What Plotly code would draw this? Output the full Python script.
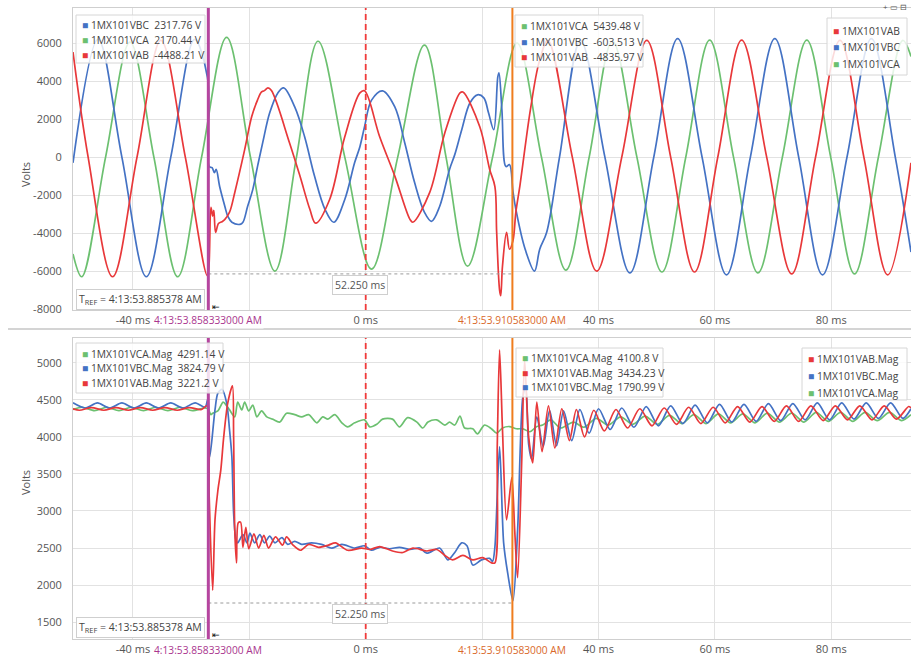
import plotly.graph_objects as go

# ---------------- DATA (time in ms relative to T_REF, values in volts) ----------------
# Top panel: instantaneous line voltages
t_vab = [-50.3, -47.7, -43.5, -39.3, -35.2, -31.0, -27.2,
         -26.6, -26.3, -26.1, -25.8, -25.3, -24.7, -24.2, -23.4, -22.5, -20.8, -19.6, -18.6, -17.9,
         -17.4, -16.8, -16.2, -13.1, -11.3, -9.6, -8.6, -6.2, -3.6, -1.0, -0.2, 2.4, 5.0, 7.6, 8.1,
         11.0, 13.6, 16.2, 16.7, 19.6, 21.3, 22.2, 22.5, 23.0, 23.2, 23.5, 24.2, 24.7, 25.3, 25.8,
         26.5, 28.3, 29.8, 31.3, 35.5, 39.7, 44.0, 48.3, 52.4, 56.5, 60.5, 64.6, 68.9, 73.2, 77.3,
         81.5, 85.6, 89.7, 93.7]
v_vab = [5530, 0, -6300, 0, 6150, 0, -6250,
         -2650, -3100, -2800, -3960, -3500, -3400, -3280, -2900, -1860, 390, 2120, 3000, 3430,
         3500, 3640, 3500, 760, -1000, -2750, -3480, -2230, 1070, 3380, 3490, 1070, -1000, -3280, -3430,
         -1860, 1280, 3380, 3430, 1600, -650, -1550, -3960, -7000, -7300, -5740, -3960, -4850, -4400, -2900,
         -1500, 2500, 5000, 6150, 0, -6000, 0, 6150, 0, -6050, 0, 6160, 0, -6150, 0,
         6150, 0, -6200, -300]

t_vbc = [-50.3, -46.0, -41.9, -37.7, -33.5, -29.4, -27.2,
         -26.9, -26.4, -26.0, -25.7, -25.1, -24.2, -23.7, -23.0, -21.6, -21.1, -20.3, -19.4, -18.6,
         -17.7, -16.5, -15.1, -14.1, -12.2, -10.5, -8.8, -7.0, -5.5, -3.6, -1.9, -1.0, -0.2, 1.0,
         2.9, 5.0, 6.7, 8.4, 10.1, 11.3, 12.7, 14.4, 15.3, 16.5, 17.9, 19.2, 20.3, 21.1, 22.0,
         22.7, 22.9, 23.4, 24.1, 24.7, 25.3, 25.8, 27.4, 29.0, 29.9, 31.1, 33.3, 36.9, 41.1, 45.4,
         49.5, 53.6, 57.8, 62.0, 66.1, 70.3, 74.4, 78.5, 82.7, 86.9, 91.0, 93.7]
v_vbc = [-300, 6200, 0, -6300, 0, 6200, 4200,
         -500, -560, -820, -650, -1550, -2600, -3120, -3430, -3540, -3430, -2600, -1700, -500,
         760, 2330, 3380, 3640, 2640, 1070, -1000, -2750, -3430, -2230, -290, 550, 1600, 3000,
         3490, 2640, 760, -1340, -2910, -3380, -2600, -650, 130, 1440, 2850, 3280, 3120, 2330, 1440,
         4220, 4430, 2490, -500, -390, -1800, -2750, -4850, -6000, -4850, -3960, 0, 6150, 0, -6100,
         0, 6240, 0, -6200, 0, 6240, 0, -6200, 0, 6240, 0, -5000]

t_vca = [-50.3, -48.8, -44.7, -40.5, -36.4, -32.3, -28.2, -23.9, -19.8, -15.6, -11.9, -8.2,
         -3.6, 1.0, 5.5, 10.1, 13.8, 17.5, 21.8, 26.0, 30.2, 34.4, 38.4, 42.4, 46.6, 50.9,
         55.0, 59.1, 63.2, 67.4, 71.6, 75.8, 79.9, 84.0, 88.1, 92.3, 93.7]
v_vca = [-5100, -6300, 0, 6050, 0, -6300, 0, 6300, 0, -6000, 0, 6100,
         0, -5900, 0, 5900, 0, -5740, 0, 6000, 0, -5950, 0, 6100, 0, -6050,
         0, 6160, 0, -6100, 0, 6160, 0, -6150, 0, 6150, 5300]

# Bottom panel: magnitudes
t_vbc_mag = [-50.3, -48.2, -46.1, -44.0, -41.9, -39.8, -37.7, -35.6, -33.5, -31.4, -29.3, -27.6,
             -27.1, -26.8, -25.9, -25.4, -24.7, -23.9, -23.4, -23.0, -22.7, -22.3, -22.0,
             -21.1, -20.4, -19.9, -19.1, -18.2, -17.4, -16.5, -15.6, -14.4, -13.4, -12.2, -11.0,
             -9.3, -7.6, -5.8, -4.1, -1.9, -0.2, 1.0, 2.4,
             4.1, 5.8, 7.6, 9.3, 10.5, 12.7, 14.1, 15.3, 16.5, 17.4, 18.4, 19.9, 21.3,
             21.8, 22.2, 23.0, 23.7, 24.4, 25.3, 26.1, 27.0, 27.5, 28.0, 28.5,
             29.4, 30.5, 31.6, 32.8, 34.0, 35.4, 36.8, 38.4, 40.0, 42.0, 44.0, 46.1, 48.2, 50.3,
             52.4, 54.5, 56.6, 58.7, 60.8, 62.9, 65.0, 67.1, 69.2, 71.3, 73.4, 75.5, 77.6, 79.7,
             81.8, 83.9, 86.0, 88.1, 90.2, 92.3, 93.7]
v_vbc_mag = [4460, 4390, 4460, 4390, 4460, 4390, 4460, 4390, 4460, 4390, 4460, 4400,
             4520, 3730, 4365, 4590, 4640, 4460, 4095, 3730, 2970, 2610, 2570,
             2680, 2570, 2700, 2570, 2680, 2570, 2660, 2570, 2640, 2550, 2590, 2550,
             2570, 2550, 2500, 2550, 2500, 2530, 2470, 2510,
             2490, 2510, 2480, 2500, 2430, 2500, 2340, 2440, 2570, 2530, 2270, 2340, 2360,
             2320, 2515, 3870, 2570, 2160, 1790, 2740, 4540, 4680, 3900, 3700,
             4270, 3870, 4360, 3880, 4350, 3950, 4370, 4050, 4380, 4100, 4390, 4130, 4410, 4150,
             4420, 4180, 4430, 4190, 4440, 4200, 4440, 4210, 4450, 4220, 4450, 4230, 4460, 4230,
             4460, 4240, 4460, 4250, 4460, 4250, 4380]

t_vab_mag = [-50.3, -49.2, -47.1, -45.0, -42.9, -40.8, -38.7, -36.6, -34.5, -32.4, -30.3, -28.2,
             -27.3, -26.9, -26.3, -25.9, -25.4, -24.9, -24.4, -23.7, -22.9, -22.7, -22.5, -22.2,
             -21.9, -21.5, -21.1,
             -20.6, -20.1, -19.2, -18.4, -17.5, -16.7, -15.5, -14.3, -13.6, -12.5, -11.2, -9.8,
             -8.1, -6.4, -5.2, -3.1, -0.7, 0.7, 2.4, 4.6, 6.4, 8.1, 10.5, 12.2, 13.6, 14.9, 16.7,
             18.4, 20.1, 21.6,
             22.2, 22.6, 23.0, 23.5, 24.2, 25.1, 25.6, 26.1, 26.8, 27.3, 28.0, 28.7, 29.4, 30.3,
             31.4, 32.5, 33.7, 35.0, 36.2, 37.6, 39.2, 41.0, 43.0, 45.0, 47.1, 49.2, 51.3, 53.4,
             55.5, 57.6, 59.7, 61.8, 63.9, 66.0, 68.1, 70.2, 72.3, 74.4, 76.5, 78.6, 80.7, 82.8,
             84.9, 87.0, 89.1, 91.2, 93.3, 93.7]
v_vab_mag = [4380, 4360, 4395, 4360, 4395, 4360, 4395, 4360, 4395, 4360, 4395, 4370,
             4420, 3200, 1930, 2880, 3280, 3555, 4000, 4460, 4690, 4000, 2740, 2300,
             2840, 2850, 2510,
             2780, 2490, 2690, 2500, 2670, 2500, 2650, 2540, 2650, 2540, 2470, 2550,
             2510, 2540, 2570, 2470, 2500, 2480, 2520, 2460, 2440, 2500, 2460, 2480, 2400, 2340, 2400,
             2340, 2370, 2300,
             2300, 3870, 5175, 4100, 2880, 3450, 2740, 2100, 3650, 5040, 4000, 3650, 4470, 3800,
             4420, 3850, 4380, 3950, 4370, 4000, 4360, 4080, 4370, 4120, 4380, 4150, 4390, 4170,
             4400, 4180, 4400, 4190, 4410, 4200, 4410, 4210, 4420, 4210, 4420, 4220, 4420, 4230,
             4420, 4230, 4420, 4240, 4410, 4390]

t_vca_mag = [-50.3, -48.7, -46.6, -44.5, -42.4, -40.3, -38.2, -36.1, -34.0, -31.9, -29.8, -27.7,
             -27.1, -26.6, -26.3, -25.4, -24.5, -23.9, -23.4, -22.5, -22.0, -21.3, -20.8, -20.1,
             -19.4, -18.7, -17.9, -17.0, -16.0, -14.8, -13.6, -12.2, -11.0, -9.8, -8.4, -7.4,
             -6.5, -5.3, -4.1, -3.1, -1.9, -0.2,
             0.7, 1.9, 2.9, 4.6, 5.8, 7.2, 8.8, 9.8, 10.7, 12.2, 13.6, 14.4, 15.3, 16.2, 17.0,
             18.4, 19.2, 20.4, 21.6, 22.5, 23.5, 24.7, 25.9, 27.0, 28.2, 29.4, 30.4, 31.8, 33.5,
             35.7, 37.5,
             39.6, 41.7, 43.8, 45.9, 48.0, 50.1, 52.2, 54.3, 56.4, 58.5, 60.6, 62.7, 64.8, 66.9,
             69.0, 71.1, 73.2, 75.3, 77.4, 79.5, 81.6, 83.7, 85.8, 87.9, 90.0, 92.1, 93.7]
v_vca_mag = [4370, 4400, 4355, 4400, 4355, 4400, 4355, 4400, 4355, 4400, 4355, 4390,
             4380, 4300, 4320, 4350, 4470, 4420, 4365, 4270, 4470, 4365, 4470, 4350,
             4430, 4270, 4350, 4270, 4240, 4200, 4320, 4300, 4270, 4300, 4190, 4270,
             4240, 4300, 4190, 4135, 4190, 4230,
             4135, 4170, 4240, 4240, 4135, 4260, 4200, 4120, 4200, 4230, 4160, 4200, 4160, 4280, 4120,
             4110, 4040, 4160, 4110, 4050, 4120, 4140, 4110, 4110, 4070, 4140, 4160, 4230, 4120,
             4200, 4130,
             4250, 4160, 4270, 4170, 4280, 4170, 4290, 4180, 4300, 4180, 4310, 4190, 4310, 4190,
             4320, 4200, 4320, 4200, 4330, 4210, 4330, 4210, 4330, 4220, 4330, 4220, 4300]

# Axis ticks
x_tickvals = [-40, -20, 0, 20, 40, 60, 80]
x_ticktext = ["-40 ms", " ", "0 ms", " ", "40 ms", "60 ms", "80 ms"]
y1_tickvals = [-8000, -6000, -4000, -2000, 0, 2000, 4000, 6000]
y2_tickvals = [1500, 2000, 2500, 3000, 3500, 4000, 4500, 5000]

# Cursors / readouts
cursor1_t, cursor1_label = -27.045, "4:13:53.858333000 AM"
cursor2_t, cursor2_label = 25.205, "4:13:53.910583000 AM"
delta_label = "52.250 ms"
tref_label = "T<sub>REF</sub> = 4:13:53.885378 AM"
top_left_legend = [("VBC", "1MX101VBC", "2317.76 V"), ("VCA", "1MX101VCA", "2170.44 V"),
                   ("VAB", "1MX101VAB", "-4488.21 V")]
top_mid_legend = [("VCA", "1MX101VCA", "5439.48 V"), ("VBC", "1MX101VBC", "-603.513 V"),
                  ("VAB", "1MX101VAB", "-4835.97 V")]
top_right_legend = [("VAB", "1MX101VAB"), ("VBC", "1MX101VBC"), ("VCA", "1MX101VCA")]
bot_left_legend = [("VCA", "1MX101VCA.Mag", "4291.14 V"), ("VBC", "1MX101VBC.Mag", "3824.79 V"),
                   ("VAB", "1MX101VAB.Mag", "3221.2 V")]
bot_mid_legend = [("VCA", "1MX101VCA.Mag", "4100.8 V"), ("VAB", "1MX101VAB.Mag", "3434.23 V"),
                  ("VBC", "1MX101VBC.Mag", "1790.99 V")]
bot_right_legend = [("VAB", "1MX101VAB.Mag"), ("VBC", "1MX101VBC.Mag"), ("VCA", "1MX101VCA.Mag")]

# ---------------- STYLE ----------------
COL = {"VAB": "#e8383a", "VBC": "#4472c4", "VCA": "#6cc070"}
MAGENTA, MAGENTA_TXT = "#b5459f", "#a9358e"
ORANGE, ORANGE_TXT = "#ef7d1e", "#d9682a"
FONT = "Open Sans"
W, H = 911, 657
L, R, T, B = 73, 0, 8, 18
PW, PH = W - L - R, H - T - B


def xp(px):
    return (px - L) / PW


def yp(py):
    return (H - B - py) / PH


fig = go.Figure()


def add_line(t, v, name, xa, ya, smooth):
    fig.add_trace(go.Scatter(x=t, y=v, mode="lines", name=name, xaxis=xa, yaxis=ya,
                             line=dict(color=COL[name], width=1.7, shape="spline", smoothing=smooth),
                             showlegend=False, hoverinfo="skip"))


add_line(t_vca, v_vca, "VCA", "x", "y", 1.0)
add_line(t_vbc, v_vbc, "VBC", "x", "y", 1.0)
add_line(t_vab, v_vab, "VAB", "x", "y", 1.0)
add_line(t_vca_mag, v_vca_mag, "VCA", "x2", "y2", 0.8)
add_line(t_vbc_mag, v_vbc_mag, "VBC", "x2", "y2", 0.8)
add_line(t_vab_mag, v_vab_mag, "VAB", "x2", "y2", 0.8)

shapes, annos = [], []

# separator between panels
shapes.append(dict(type="line", xref="paper", yref="paper", x0=xp(8), x1=xp(911), y0=yp(329), y1=yp(329),
                   line=dict(color="#d4d4d4", width=2)))

for xa, ya, dl_y, lab_py, box_py, tref_py in [("x", "y", -6150, 320, 285, 299),
                                               ("x2", "y2", 1758, 650, 614, 627)]:
    shapes.append(dict(type="line", xref=xa, yref=ya + " domain", x0=0, x1=0, y0=0, y1=1,
                       line=dict(color="#f03a3a", width=1.8, dash="6px,4px")))
    shapes.append(dict(type="line", xref=xa, yref=ya, x0=cursor1_t, x1=cursor2_t, y0=dl_y, y1=dl_y,
                       line=dict(color="#9a9a9a", width=1, dash="dot")))
    shapes.append(dict(type="line", xref=xa, yref=ya + " domain", x0=cursor1_t, x1=cursor1_t, y0=0, y1=1,
                       line=dict(color=MAGENTA, width=3)))
    shapes.append(dict(type="line", xref=xa, yref=ya + " domain", x0=cursor2_t, x1=cursor2_t, y0=0, y1=1,
                       line=dict(color=ORANGE, width=2)))
    annos.append(dict(x=cursor1_t, xref=xa, y=yp(lab_py), yref="paper", text=cursor1_label,
                      showarrow=False, font=dict(color=MAGENTA_TXT, size=10.2, family=FONT),
                      xanchor="center", yanchor="middle", bgcolor="white"))
    annos.append(dict(x=cursor2_t, xref=xa, y=yp(lab_py), yref="paper", text=cursor2_label,
                      showarrow=False, font=dict(color=ORANGE_TXT, size=10.2, family=FONT),
                      xanchor="center", yanchor="middle", bgcolor="white"))
    annos.append(dict(x=-0.9, xref=xa, y=yp(box_py), yref="paper", text=delta_label, showarrow=False,
                      font=dict(color="#555", size=10.5, family=FONT), bgcolor="white",
                      bordercolor="#cfcfcf", borderwidth=1, borderpad=2, xanchor="center", yanchor="middle"))
    annos.append(dict(x=xp(76), xref="paper", y=yp(tref_py), yref="paper", text=tref_label, showarrow=False,
                      font=dict(color="#444", size=10.5, family=FONT), bgcolor="white",
                      bordercolor="#cfcfcf", borderwidth=1, borderpad=2, xanchor="left", yanchor="middle"))
    annos.append(dict(x=xp(216), xref="paper", y=yp(tref_py + 7), yref="paper", text="⇤", showarrow=False,
                      font=dict(color="#111", size=9), xanchor="center", yanchor="middle"))

# Volts titles
for py in (160, 497):
    annos.append(dict(x=xp(16), xref="paper", y=yp(py), yref="paper", text="Volts", textangle=-90,
                      showarrow=False, font=dict(color="#555", size=11, family=FONT)))


def legend_box(x0, y0, x1, y1, items, rows):
    shapes.append(dict(type="rect", xref="paper", yref="paper", x0=xp(x0), x1=xp(x1), y0=yp(y1), y1=yp(y0),
                       fillcolor="rgba(255,255,255,0.82)", line=dict(color="#d6d6d6", width=1)))
    for item, py in zip(items, rows):
        key = item[0]
        txt = item[1] if len(item) == 2 else item[1] + "\u00a0\u00a0" + item[2]
        annos.append(dict(x=xp(x0 + 4), xref="paper", y=yp(py), yref="paper", xanchor="left",
                          yanchor="middle", showarrow=False,
                          text=f'<span style="color:{COL[key]}">■</span> {txt}',
                          font=dict(color="#444", size=10.3, family=FONT)))


legend_box(76, 15, 205, 63, top_left_legend, [25, 40, 55])
legend_box(515, 15, 643, 67, top_mid_legend, [26, 42, 57])
legend_box(827, 18, 907, 75, top_right_legend, [31, 47, 64])
legend_box(76, 343, 223, 393, bot_left_legend, [354, 368, 383])
legend_box(516, 348, 663, 397, bot_mid_legend, [358, 373, 387])
legend_box(802, 348, 907, 400, bot_right_legend, [359, 376, 393])

# tiny toolbar glyphs
annos.append(dict(x=xp(895), xref="paper", y=yp(6), yref="paper", text="+ ▭ ⊟", showarrow=False,
                  font=dict(color="#555", size=8), xanchor="center", yanchor="middle"))

axis_common = dict(showgrid=True, gridcolor="#e2e2e2", gridwidth=1, zeroline=False, showline=True,
                   linecolor="#cfcfcf", linewidth=1, mirror=True,
                   tickfont=dict(color="#555", size=11, family=FONT))

fig.update_layout(
    width=W, height=H, margin=dict(l=L, r=R, t=T, b=B),
    paper_bgcolor="white", plot_bgcolor="white",
    font=dict(family=FONT, color="#444"),
    xaxis=dict(domain=[0, 1], range=[-50.3, 93.7], anchor="y", tickvals=x_tickvals, ticktext=x_ticktext,
               ticks="", **axis_common),
    yaxis=dict(domain=[yp(310), 1], range=[-8050, 7850], anchor="x", tickvals=y1_tickvals,
               ticktext=[str(v) for v in y1_tickvals], ticks="outside", ticklen=8,
               tickcolor="rgba(0,0,0,0)", **axis_common),
    xaxis2=dict(domain=[0, 1], range=[-50.3, 93.7], anchor="y2", tickvals=x_tickvals, ticktext=x_ticktext,
                ticks="", **axis_common),
    yaxis2=dict(domain=[0, yp(338)], range=[1272, 5335], anchor="x2", tickvals=y2_tickvals,
                ticktext=[str(v) for v in y2_tickvals], ticks="outside", ticklen=8,
                tickcolor="rgba(0,0,0,0)", **axis_common),
    shapes=shapes, annotations=annos,
)

fig.write_html("out.html", config={"displayModeBar": False},
               post_script="document.body.style.margin='0';document.body.style.overflow='hidden';")
